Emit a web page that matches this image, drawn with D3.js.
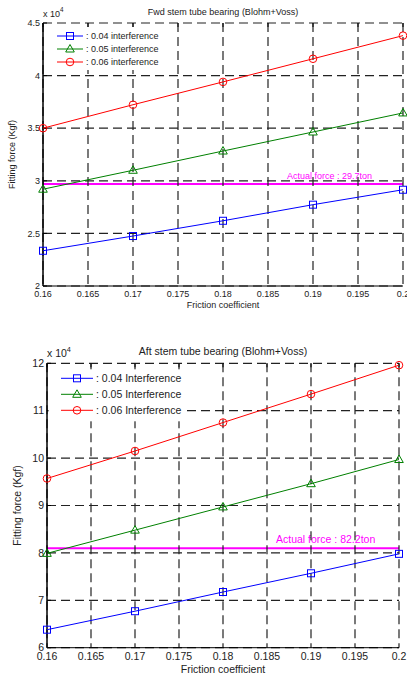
<!DOCTYPE html>
<html>
<head>
<meta charset="utf-8">
<script src="https://cdn.jsdelivr.net/npm/d3@7"></script>
<style>
  body { margin: 0; background: #fff; }
  svg { display: block; font-family: "Liberation Sans", Arial, sans-serif; }
</style>
</head>
<body>
<svg id="chart" width="407" height="677"></svg>
<script>
// friction coefficient (x) and fitting force in units of 1e4 Kgf
const friction = [0.16, 0.17, 0.18, 0.19, 0.20];
const xTicks = [0.16, 0.165, 0.17, 0.175, 0.18, 0.185, 0.19, 0.195, 0.2];

const fwd004 = [2.335, 2.475, 2.62, 2.773, 2.915];
const fwd005 = [2.92, 3.10, 3.283, 3.464, 3.645];
const fwd006 = [3.50, 3.723, 3.94, 4.16, 4.38];
const fwdActual = 2.97;
const fwdTicks = [2, 2.5, 3, 3.5, 4, 4.5];

const aft004 = [6.38, 6.77, 7.175, 7.57, 7.98];
const aft005 = [7.99, 8.48, 8.97, 9.46, 9.97];
const aft006 = [9.57, 10.15, 10.75, 11.35, 11.96];
const aftActual = 8.10;
const aftTicks = [6, 7, 8, 9, 10, 11, 12];

const svg = d3.select("#chart");

function drawPanel(p) {
  const x = d3.scaleLinear().domain([0.16, 0.2]).range([p.left, p.right]);
  const y = d3.scaleLinear().domain(p.yDomain).range([p.bottom, p.top]);
  const g = svg.append("g");
  const fs = p.fontSize;

  // title and exponent
  g.append("text").attr("x", (p.left + p.right) / 2).attr("y", p.top - 8)
    .attr("text-anchor", "middle").attr("font-size", fs).attr("fill", "#222").text(p.title);
  const ex = g.append("text").attr("x", p.left).attr("y", p.top - 6)
    .attr("font-size", fs).attr("fill", "#222");
  ex.append("tspan").text("x 10");
  ex.append("tspan").attr("dy", -5).attr("font-size", fs * 0.7).text("4");

  // actual force line + label (grid drawn over it afterwards)
  g.append("line").attr("x1", p.left).attr("x2", p.right)
    .attr("y1", y(p.actual)).attr("y2", y(p.actual))
    .attr("stroke", "#ff00ff").attr("stroke-width", 2);
  g.append("text").attr("x", p.labelX).attr("y", y(p.actual) - 5)
    .attr("font-size", fs).attr("fill", "#ff00ff").text(p.actualLabel);

  // dashed grid
  const dash = "9,5";
  g.selectAll(".vg").data(xTicks).enter().append("line")
    .attr("x1", d => x(d)).attr("x2", d => x(d))
    .attr("y1", p.top).attr("y2", p.bottom)
    .attr("stroke", "#222").attr("stroke-width", 1.2).attr("stroke-dasharray", dash);
  g.selectAll(".hg").data(p.yTicks).enter().append("line")
    .attr("x1", p.left).attr("x2", p.right)
    .attr("y1", d => y(d)).attr("y2", d => y(d))
    .attr("stroke", "#222").attr("stroke-width", 1.2).attr("stroke-dasharray", dash);

  // solid left / bottom axes with inward ticks
  g.append("line").attr("x1", p.left).attr("x2", p.left).attr("y1", p.top).attr("y2", p.bottom)
    .attr("stroke", "#000").attr("stroke-width", 1.5);
  g.append("line").attr("x1", p.left).attr("x2", p.right).attr("y1", p.bottom).attr("y2", p.bottom)
    .attr("stroke", "#000").attr("stroke-width", 1);
  g.selectAll(".yt").data(p.yTicks).enter().append("line")
    .attr("x1", p.left).attr("x2", p.left + 4).attr("y1", d => y(d)).attr("y2", d => y(d))
    .attr("stroke", "#000");
  g.selectAll(".xt").data(xTicks).enter().append("line")
    .attr("x1", d => x(d)).attr("x2", d => x(d)).attr("y1", p.top).attr("y2", p.top + 4)
    .attr("stroke", "#000");

  // tick labels
  g.selectAll(".yl").data(p.yTicks).enter().append("text")
    .attr("x", p.left - 3).attr("y", d => y(d) + fs * 0.35)
    .attr("text-anchor", "end").attr("font-size", fs).attr("fill", "#222")
    .text(d => d3.format("~g")(d));
  g.selectAll(".xl").data(xTicks).enter().append("text")
    .attr("x", d => x(d)).attr("y", p.bottom + fs + 2)
    .attr("text-anchor", "middle").attr("font-size", fs).attr("fill", "#222")
    .text(d => d3.format("~g")(d));

  // axis labels
  g.append("text").attr("x", (p.left + p.right) / 2).attr("y", p.bottom + 2 * fs + 4)
    .attr("text-anchor", "middle").attr("font-size", fs).attr("fill", "#222").text("Friction coefficient");
  g.append("text")
    .attr("transform", `translate(${p.yLabelX},${(p.top + p.bottom) / 2}) rotate(-90)`)
    .attr("text-anchor", "middle").attr("font-size", fs).attr("fill", "#222").text("Fitting force (Kgf)");

  // legend background
  g.append("rect").attr("x", p.left + 1.5).attr("y", p.legend.y - 9)
    .attr("width", p.legend.w).attr("height", p.legend.dy * 3 + 4).attr("fill", "#fff");

  const series = [
    { vals: p.s1, color: "#0000ff", marker: "square", name: p.names[0] },
    { vals: p.s2, color: "#008000", marker: "triangle", name: p.names[1] },
    { vals: p.s3, color: "#ff0000", marker: "circle", name: p.names[2] }
  ];

  const line = d3.line().x(d => x(d[0])).y(d => y(d[1]));

  function marker(sel, type, color) {
    if (type === "square") {
      sel.append("rect").attr("x", -3.5).attr("y", -3.5).attr("width", 7).attr("height", 7)
        .attr("fill", "none").attr("stroke", color);
    } else if (type === "triangle") {
      sel.append("path").attr("d", "M0,-4.5L4.3,3L-4.3,3Z").attr("fill", "none").attr("stroke", color);
    } else {
      sel.append("circle").attr("r", 3.8).attr("fill", "none").attr("stroke", color);
    }
  }

  series.forEach((s, i) => {
    const pts = friction.map((f, j) => [f, s.vals[j]]);
    g.append("path").datum(pts).attr("d", line)
      .attr("fill", "none").attr("stroke", s.color).attr("stroke-width", 1);
    pts.forEach(pt => {
      const m = g.append("g").attr("transform", `translate(${x(pt[0])},${y(pt[1])})`);
      marker(m, s.marker, s.color);
    });

    // legend entry
    const ly = p.legend.y + i * p.legend.dy;
    g.append("line").attr("x1", p.legend.x0).attr("x2", p.legend.x1).attr("y1", ly).attr("y2", ly)
      .attr("stroke", s.color);
    const lm = g.append("g").attr("transform", `translate(${(p.legend.x0 + p.legend.x1) / 2},${ly})`);
    marker(lm, s.marker, s.color);
    g.append("text").attr("x", p.legend.x1 + 3).attr("y", ly + fs * 0.35)
      .attr("font-size", fs).attr("fill", "#222").text(s.name);
  });
}

drawPanel({
  left: 43, right: 403, top: 23, bottom: 286,
  yDomain: [2, 4.5], yTicks: fwdTicks, fontSize: 9,
  title: "Fwd stem tube bearing (Blohm+Voss)",
  actual: fwdActual, actualLabel: "Actual force : 29.7ton", labelX: 287,
  yLabelX: 15,
  s1: fwd004, s2: fwd005, s3: fwd006,
  names: [": 0.04 interference", ": 0.05 interference", ": 0.06 interference"],
  legend: { x0: 57, x1: 83, y: 36, dy: 13, w: 118 }
});

drawPanel({
  left: 47, right: 399, top: 363.3, bottom: 647.7,
  yDomain: [6, 12], yTicks: aftTicks, fontSize: 10.5,
  title: "Aft stem tube bearing (Blohm+Voss)",
  actual: aftActual, actualLabel: "Actual force : 82.2ton", labelX: 276,
  yLabelX: 21,
  s1: aft004, s2: aft005, s3: aft006,
  names: [": 0.04 Interference", ": 0.05 Interference", ": 0.06 Interference"],
  legend: { x0: 61, x1: 93, y: 378.3, dy: 16, w: 136 }
});
</script>
</body>
</html>
